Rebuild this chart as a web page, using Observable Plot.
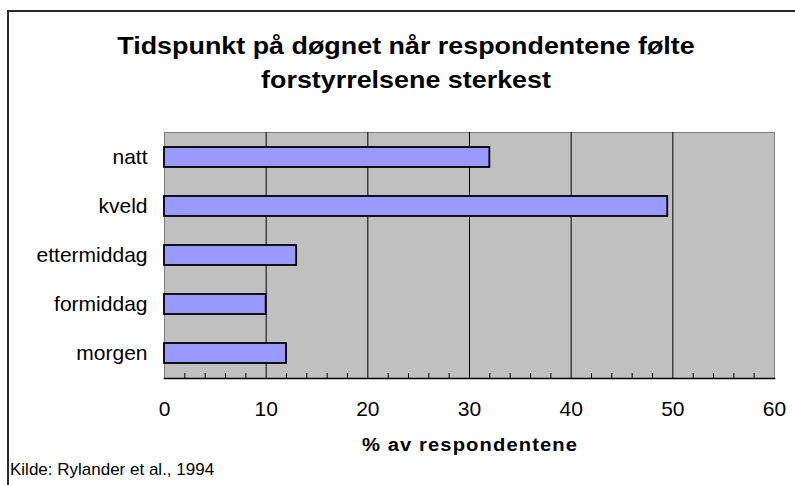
<!DOCTYPE html>
<html>
<head>
<meta charset="utf-8">
<script src="https://cdn.jsdelivr.net/npm/d3@7"></script>
<script src="https://cdn.jsdelivr.net/npm/@observablehq/plot@0.6"></script>
<style>
  html, body { margin: 0; padding: 0; background: #fff; }
  #wrap { position: relative; width: 795px; height: 485px; overflow: hidden; font-family: "Liberation Sans", Arial, sans-serif; }
  #border { position: absolute; left: 7px; top: 10px; width: 820px; height: 520px; border: 2px solid #2a2a2a; box-sizing: border-box; }
  .title { position: absolute; left: 0; width: 812px; text-align: center; font-weight: bold; font-size: 24px; color: #000; transform: scaleX(1.12); transform-origin: 406px 0; white-space: nowrap; }
  #xlabel { position: absolute; left: 0; width: 940px; top: 435px; text-align: center; font-weight: bold; font-size: 18px; letter-spacing: 1px; transform: scaleX(1.12); transform-origin: 470px 0; white-space: nowrap; }
  #caption { position: absolute; left: 10px; top: 460px; font-size: 17px; white-space: nowrap; }
  #chart { position: absolute; left: 0; top: 0; }
</style>
</head>
<body>
<div id="wrap">
  <div id="border"></div>
  <div id="chart"></div>
  <div class="title" style="top:32px">Tidspunkt på døgnet når respondentene følte</div>
  <div class="title" style="top:66px">forstyrrelsene sterkest</div>
  <div id="xlabel">% av respondentene</div>
  <div id="caption">Kilde: Rylander et al., 1994</div>
</div>
<script>
const categories = ["natt", "kveld", "ettermiddag", "formiddag", "morgen"];
const values = [32, 49.5, 13, 10, 12];
const majorTicks = [0, 10, 20, 30, 40, 50, 60];
const gridLines = [10, 20, 30, 40, 50];
const minorTicks = [2, 4, 6, 8, 12, 14, 16, 18, 22, 24, 26, 28, 32, 34, 36, 38, 42, 44, 46, 48, 52, 54, 56, 58];

const data = categories.map((c, i) => ({category: c, value: values[i]}));

const W = 795, H = 485, mTop = 132, mBottom = 107;

const chart = Plot.plot({
  width: W,
  height: H,
  marginLeft: 164,
  marginRight: 21,
  marginTop: mTop,
  marginBottom: mBottom,
  style: { fontFamily: "'Liberation Sans', Arial, sans-serif", background: "transparent", color: "#000" },
  x: { domain: [0, 60], ticks: majorTicks },
  y: { domain: categories, paddingInner: 0.59, paddingOuter: 0.295 },
  marks: [
    Plot.frame({ fill: "#c0c0c0", stroke: "#808080" }),
    Plot.ruleX(gridLines, { stroke: "#000", strokeWidth: 1 }),
    Plot.tickX(minorTicks, { x: d => d, stroke: "#000", insetTop: (H - mTop - mBottom) - 5 }),
    Plot.barX(data, { x: "value", y: "category", fill: "#9999ff", stroke: "#000", strokeWidth: 1.8 }),
    Plot.frame({ anchor: "bottom", stroke: "#000", strokeWidth: 1.5 }),
    Plot.axisX({ ticks: majorTicks, tickSize: 0, tickPadding: 23, fontSize: 21, label: null }),
    Plot.axisY({ tickSize: 0, tickPadding: 17, fontSize: 21, label: null })
  ]
});
document.getElementById("chart").appendChild(chart);
</script>
</body>
</html>
